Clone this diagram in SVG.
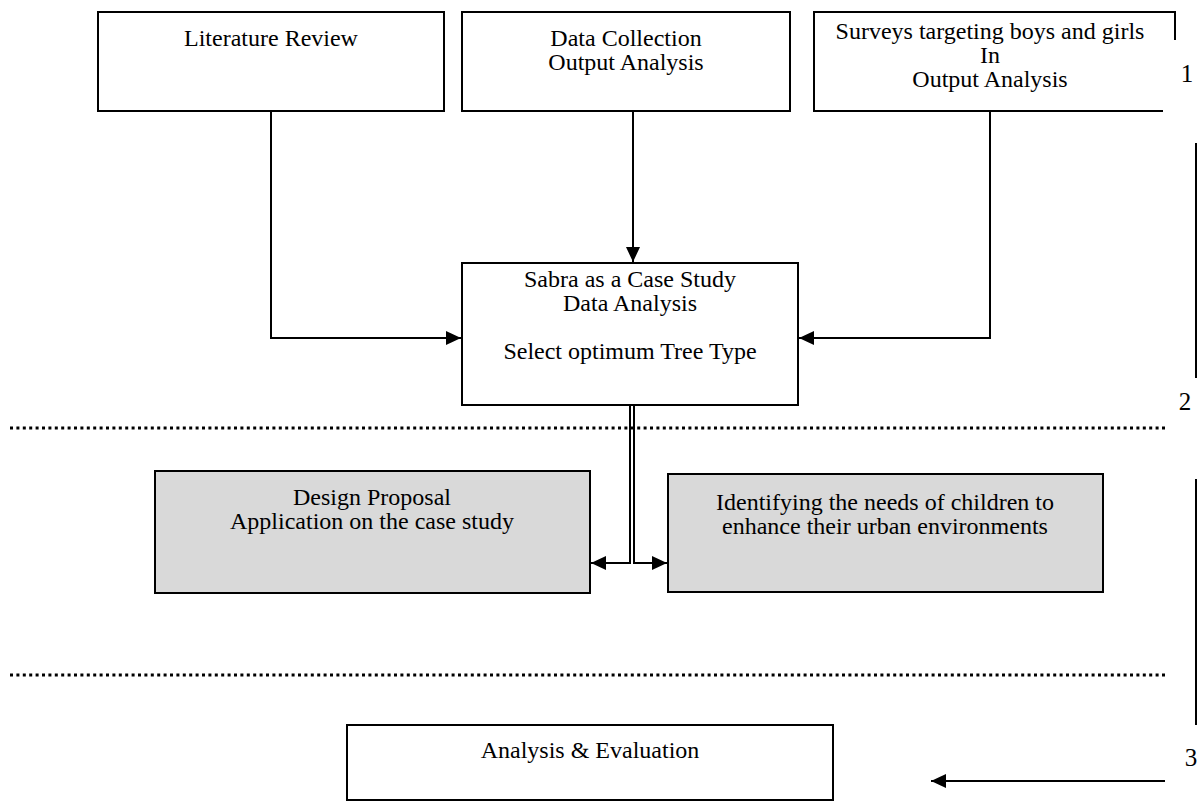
<svg xmlns="http://www.w3.org/2000/svg" width="1202" height="802" viewBox="0 0 1202 802">
  <style>
    .box { fill: #ffffff; stroke: #000; stroke-width: 2; }
    .grey { fill: #d9d9d9; stroke: #000; stroke-width: 2; }
    .t { font-family: "Liberation Serif", "Times New Roman", serif; font-size: 24px; fill: #000; text-anchor: middle; }
    .num { font-family: "Liberation Serif", "Times New Roman", serif; font-size: 25px; fill: #000; text-anchor: middle; }
    .ln { fill: none; stroke: #000; stroke-width: 2; }
    .dot { fill: none; stroke: #000; stroke-width: 3; stroke-dasharray: 3 3.4; }
  </style>
  <defs>
    <marker id="arr" markerUnits="userSpaceOnUse" markerWidth="16" markerHeight="14" refX="15" refY="7" orient="auto">
      <path d="M0,0 L15,7 L0,14 z" fill="#000"/>
    </marker>
  </defs>
  <rect width="1202" height="802" fill="#ffffff"/>

  <g id="node-literature">
    <rect class="box" x="98" y="12" width="346" height="99"/>
    <text class="t" x="271" y="46">Literature Review</text>
  </g>
  <g id="node-datacollection">
    <rect class="box" x="462" y="12" width="328" height="99"/>
    <text class="t" x="626" y="46">Data Collection</text>
    <text class="t" x="626" y="70">Output Analysis</text>
  </g>
  <g id="node-surveys">
    <path class="ln" d="M1175,40 L1175,12 L814,12 L814,111 L1163,111"/>
    <text class="t" x="990" y="39">Surveys targeting boys and girls</text>
    <text class="t" x="990" y="63">In</text>
    <text class="t" x="990" y="87">Output Analysis</text>
  </g>
  <g id="node-sabra">
    <rect class="box" x="462" y="263" width="336" height="142"/>
    <text class="t" x="630" y="287">Sabra as a Case Study</text>
    <text class="t" x="630" y="311">Data Analysis</text>
    <text class="t" x="630" y="359">Select optimum Tree Type</text>
  </g>
  <g id="node-design">
    <rect class="grey" x="155" y="471" width="435" height="122"/>
    <text class="t" x="372" y="505">Design Proposal</text>
    <text class="t" x="372" y="529">Application on the case study</text>
  </g>
  <g id="node-identifying">
    <rect class="grey" x="668" y="474" width="435" height="118"/>
    <text class="t" x="885" y="510">Identifying the needs of children to</text>
    <text class="t" x="885" y="534">enhance their urban environments</text>
  </g>
  <g id="node-analysis">
    <rect class="box" x="347" y="725" width="486" height="75"/>
    <text class="t" x="590" y="758">Analysis &amp; Evaluation</text>
  </g>

  <g id="separators">
    <line class="dot" x1="10" y1="428" x2="1166" y2="428"/>
    <line class="dot" x1="10" y1="675" x2="1166" y2="675"/>
    <line class="ln" x1="1196" y1="143" x2="1196" y2="378"/>
    <line class="ln" x1="1196" y1="479" x2="1196" y2="725"/>
    <text class="num" x="1187" y="82">1</text>
    <text class="num" x="1185" y="410">2</text>
    <text class="num" x="1191" y="766">3</text>
  </g>

  <g id="connectors">
    <path class="ln" d="M271,111 L271,338 L461,338" marker-end="url(#arr)"/>
    <path class="ln" d="M633,111 L633,262" marker-end="url(#arr)"/>
    <path class="ln" d="M990,111 L990,338 L799,338" marker-end="url(#arr)"/>
    <path class="ln" d="M630,405 L630,563 L591,563" marker-end="url(#arr)"/>
    <path class="ln" d="M634,405 L634,563 L667,563" marker-end="url(#arr)"/>
    <path class="ln" d="M1165,781 L931,781" marker-end="url(#arr)"/>
  </g>
</svg>
